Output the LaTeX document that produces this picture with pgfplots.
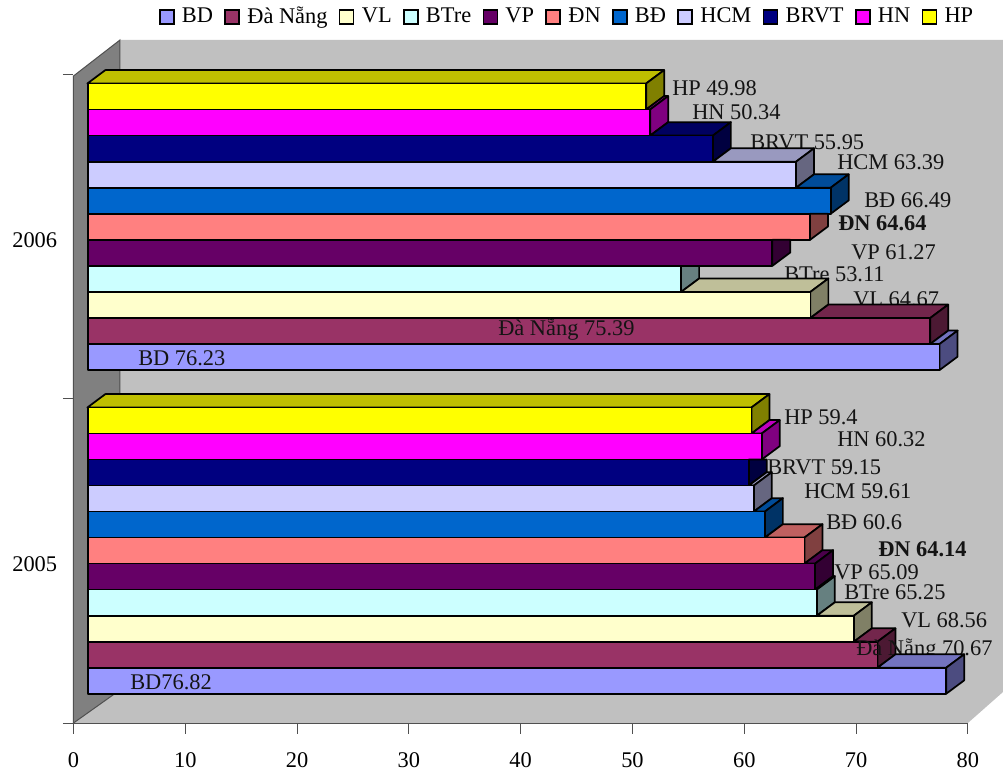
\documentclass[border=0pt]{standalone}
\usepackage{fontspec}
\setmainfont{Liberation Serif}
\usepackage{pgfplots}
\pgfplotsset{compat=1.18}
\definecolor{cBD}{HTML}{9999FF}
\definecolor{cDN}{HTML}{993366}
\definecolor{cVL}{HTML}{FFFFCC}
\definecolor{cBT}{HTML}{CCFFFF}
\definecolor{cVP}{HTML}{660066}
\definecolor{cDG}{HTML}{FF8080}
\definecolor{cBB}{HTML}{0066CC}
\definecolor{cHC}{HTML}{CCCCFF}
\definecolor{cBR}{HTML}{000080}
\definecolor{cHN}{HTML}{FF00FF}
\definecolor{cHP}{HTML}{FFFF00}
\definecolor{wallc}{HTML}{C0C0C0}
\definecolor{sidec}{HTML}{808080}
\definecolor{tickc}{HTML}{505050}
% value, value of the bar above it, top of the front face (pixels from the top), colour
\newcommand\threedbar[4]{%
  \pgfmathsetmacro\xa{1.28}%
  \pgfmathsetmacro\xb{#1+1.24}%
  \pgfmathsetmacro\xc{#1+1.24+1.61}%
  \pgfmathsetmacro\xu{#2+1.24}%
  \pgfmathsetmacro\xv{#2+1.24+1.61}%
  \pgfmathsetmacro\yt{723-#3}%
  \pgfmathsetmacro\yb{723-#3-26.05}%
  \pgfmathsetmacro\yu{723-#3+13.4}%
  \pgfmathsetmacro\yv{723-#3-26.05+13.4}%
  \pgfmathparse{#1>#2?1:0}%
  \ifnum\pgfmathresult>0\relax
    \edef\tmp{%
      \noexpand\addplot[forget plot,fill=#4!75!black,draw=black,line width=1.3pt,line join=round] coordinates {(\xu,\yt)(\xb,\yt)(\xc,\yu)(\xv,\yu)} --cycle;
      \noexpand\addplot[forget plot,fill=#4!50!black,draw=black,line width=1.3pt,line join=round] coordinates {(\xb,\yb)(\xb,\yt)(\xc,\yu)(\xc,\yv)} --cycle;
      \noexpand\addplot[forget plot,fill=#4,draw=black,line width=1.3pt,line join=round] coordinates {(\xa,\yb)(\xb,\yb)(\xb,\yt)(\xa,\yt)} --cycle;
    }%
  \else
    \edef\tmp{%
      \noexpand\addplot[forget plot,fill=#4!50!black,draw=black,line width=1.3pt,line join=round] coordinates {(\xb,\yb)(\xb,\yt)(\xc,\yt)(\xc,\yv)} --cycle;
      \noexpand\addplot[forget plot,fill=#4,draw=black,line width=1.3pt,line join=round] coordinates {(\xa,\yb)(\xb,\yb)(\xb,\yt)(\xa,\yt)} --cycle;
    }%
  \fi
  \tmp}
\newcommand\lab[3]{\node[anchor=base west,inner sep=0pt,text=black!92] at (axis cs:{(#1-73.5)/11.18},{723-#2-1.5}) {#3};}
\begin{document}
\begin{tikzpicture}[x=1pt,y=1pt]
\useasboundingbox (0,0) rectangle (752.25,578.25);
\fontsize{16.8}{19}\selectfont
\begin{axis}[
  at={(55.125pt,36pt)}, anchor=south west,
  scale only axis, width=697.125pt, height=512.25pt,
  xmin=0, xmax=83.14, ymin=0, ymax=683,
  clip=false,
  axis line style={draw=none},
  xtick={0,10,...,80},
  ytick={0,324,648}, yticklabels={,,},
  extra y ticks={162,486}, extra y tick labels={2005,2006},
  extra y tick style={major tick length=0pt, tick style={draw=none},
     yticklabel style={anchor=base east, xshift=-6.5pt, yshift=-8pt}},
  xtick pos=lower, ytick pos=left, tick align=outside,
  major tick length=8pt,
  tick style={draw=tickc,line width=0.75pt},
  tick label style={font=\fontsize{16.8}{19}\selectfont},
  xticklabel style={anchor=base, yshift=-25.2pt},
  /pgf/number format/assume math mode=true,
  legend columns=11,
  legend cell align=left,
  legend image code/.code={\draw[#1] (0pt,-5.2pt) rectangle (10.5pt,5.2pt); \path (14pt,0pt);},
  legend style={at={(0.092,1.0337)}, anchor=west, draw=none, fill=none,
     font=\fontsize{16.8}{19}\selectfont, inner sep=0pt, outer sep=0pt,
     /tikz/every even column/.append style={column sep=6.5pt}},
]
% legend
\addlegendimage{draw=black,line width=1.2pt,fill=cBD}\addlegendentry{BD}
\addlegendimage{draw=black,line width=1.2pt,fill=cDN}\addlegendentry{Đà Nẵng}
\addlegendimage{draw=black,line width=1.2pt,fill=cVL}\addlegendentry{VL}
\addlegendimage{draw=black,line width=1.2pt,fill=cBT}\addlegendentry{BTre}
\addlegendimage{draw=black,line width=1.2pt,fill=cVP}\addlegendentry{VP}
\addlegendimage{draw=black,line width=1.2pt,fill=cDG}\addlegendentry{ĐN}
\addlegendimage{draw=black,line width=1.2pt,fill=cBB}\addlegendentry{BĐ}
\addlegendimage{draw=black,line width=1.2pt,fill=cHC}\addlegendentry{HCM}
\addlegendimage{draw=black,line width=1.2pt,fill=cBR}\addlegendentry{BRVT}
\addlegendimage{draw=black,line width=1.2pt,fill=cHN}\addlegendentry{HN}
\addlegendimage{draw=black,line width=1.2pt,fill=cHP}\addlegendentry{HP}
% walls and floor
\addplot[forget plot,fill=wallc,draw=none] coordinates {(4.159,683)(83.14,683)(83.14,31)(80,0)(0,0)(4.159,33)} --cycle;
\addplot[forget plot,fill=sidec,draw=tickc,line width=0.75pt] coordinates {(0,647)(4.159,683)(4.159,33)(0,0)} --cycle;
\addplot[forget plot,draw=tickc,line width=0.75pt] coordinates {(0,0)(80,0)};
% 2006
\threedbar{49.98}{0}{83.5}{cHP}\lab{672}{94}{HP 49.98}
\threedbar{50.34}{49.98}{109.5}{cHN}\lab{692}{118}{HN 50.34}
\threedbar{55.95}{50.34}{135.6}{cBR}\lab{750}{148}{BRVT 55.95}
\threedbar{63.39}{55.95}{161.7}{cHC}\lab{837}{168}{HCM 63.39}
\threedbar{66.49}{63.39}{187.7}{cBB}\lab{864}{206}{BĐ 66.49}
\threedbar{64.64}{66.49}{213.8}{cDG}\lab{838}{229}{\textbf{ĐN 64.64}}
\threedbar{61.27}{64.64}{239.8}{cVP}\lab{851}{258}{VP 61.27}
\threedbar{53.11}{61.27}{265.9}{cBT}\lab{784}{280}{BTre 53.11}
\threedbar{64.67}{53.11}{291.9}{cVL}\lab{853}{305}{VL 64.67}
\threedbar{75.39}{64.67}{318}{cDN}\lab{498}{334}{Đà Nẵng 75.39}
\threedbar{76.23}{75.39}{344}{cBD}\lab{138}{364}{BD 76.23}
% 2005
\threedbar{59.4}{0}{407.5}{cHP}\lab{784}{423}{HP 59.4}
\threedbar{60.32}{59.4}{433.5}{cHN}\lab{837}{445}{HN 60.32}
\threedbar{59.15}{60.32}{459.5}{cBR}\lab{767}{473}{BRVT 59.15}
\threedbar{59.61}{59.15}{485.6}{cHC}\lab{804}{497}{HCM 59.61}
\threedbar{60.6}{59.61}{511.6}{cBB}\lab{826}{528}{BĐ 60.6}
\threedbar{64.14}{60.6}{537.6}{cDG}\lab{878}{555}{\textbf{ĐN 64.14}}
\threedbar{65.09}{64.14}{563.6}{cVP}\lab{834}{578}{VP 65.09}
\threedbar{65.25}{65.09}{589.6}{cBT}\lab{844}{598}{BTre 65.25}
\threedbar{68.56}{65.25}{615.7}{cVL}\lab{901}{626}{VL 68.56}
\threedbar{70.67}{68.56}{641.7}{cDN}\lab{856}{654}{Đà Nẵng 70.67}
\threedbar{76.82}{70.67}{667.7}{cBD}\lab{130}{688}{BD76.82}
\end{axis}
\end{tikzpicture}
\end{document}
